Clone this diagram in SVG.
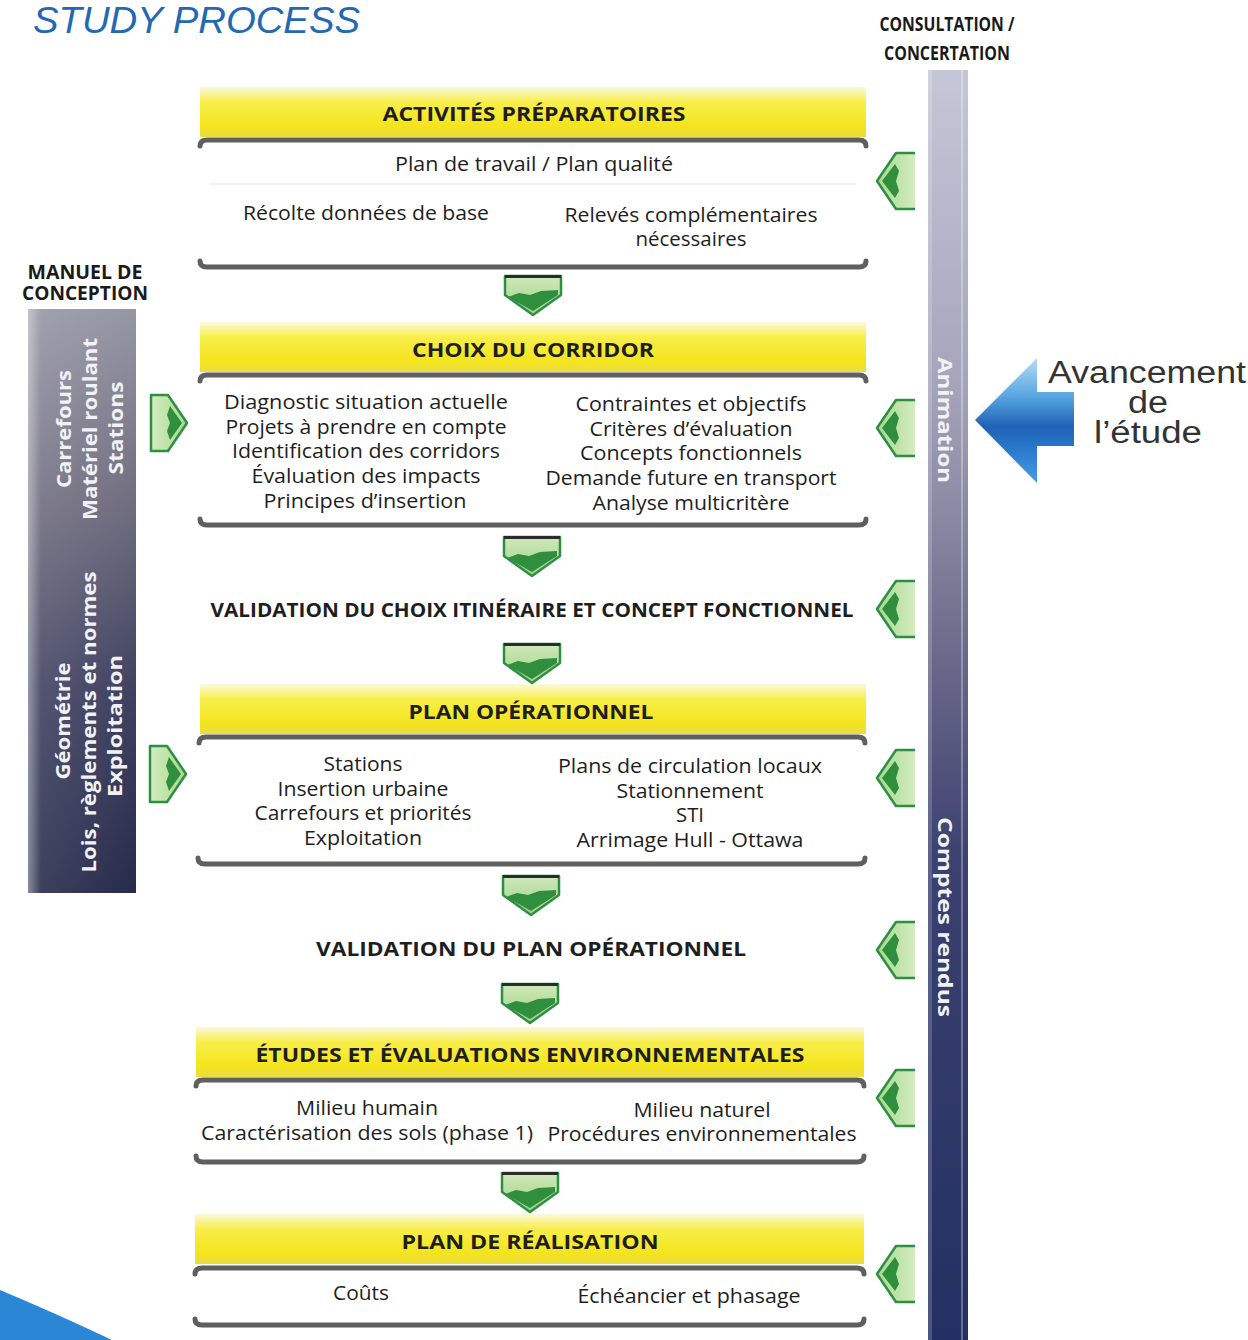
<svg xmlns="http://www.w3.org/2000/svg" xmlns:xlink="http://www.w3.org/1999/xlink" width="1248" height="1340" viewBox="0 0 1248 1340">
  <style>
    .body { font-family: "Open Sans", "Noto Sans", "Liberation Sans", sans-serif; font-size: 20px; fill: #1e1e1e; text-anchor: middle; }
    .head { font-family: "Open Sans", "Noto Sans", "Liberation Sans", sans-serif; font-size: 20px; font-weight: bold; fill: #1e1e1e; text-anchor: middle; }
    .cond { font-family: "Open Sans", "Liberation Sans", sans-serif; font-size: 19px; font-weight: bold; fill: #1a1a1a; text-anchor: middle; }
    .vert { font-family: "Open Sans", "Liberation Sans", sans-serif; font-size: 20px; font-weight: bold; fill: #f2f2f6; text-anchor: middle; }
    .rule { fill: none; stroke: #5f5f5f; stroke-width: 5; stroke-linecap: round; }
    .yellow { fill: url(#yellowGrad); }
    .arrowline { stroke: #2e8f43; stroke-width: 2.5; stroke-linejoin: round; }
  </style>
  <defs>
    <linearGradient id="yellowGrad" x1="0" y1="0" x2="0" y2="1">
      <stop offset="0" stop-color="#fcf9dc"/>
      <stop offset="0.3" stop-color="#f8ee4a"/>
      <stop offset="0.8" stop-color="#f4e41c"/>
      <stop offset="1" stop-color="#e9dc48"/>
    </linearGradient>
    <linearGradient id="greenGrad" x1="0" y1="0" x2="0" y2="1">
      <stop offset="0" stop-color="#cfe9bb"/>
      <stop offset="1" stop-color="#9fd184"/>
    </linearGradient>
    <linearGradient id="greenGradH" x1="0" y1="0" x2="1" y2="0">
      <stop offset="0" stop-color="#a9d88e"/>
      <stop offset="1" stop-color="#d3ecc0"/>
    </linearGradient>
    <linearGradient id="greenGradHr" x1="1" y1="0" x2="0" y2="0">
      <stop offset="0" stop-color="#a9d88e"/>
      <stop offset="1" stop-color="#d3ecc0"/>
    </linearGradient>
    <linearGradient id="leftBarGrad" x1="0" y1="0" x2="0" y2="1">
      <stop offset="0" stop-color="#9796a5"/>
      <stop offset="0.35" stop-color="#6d6b7d"/>
      <stop offset="0.65" stop-color="#3f4160"/>
      <stop offset="1" stop-color="#272b4b"/>
    </linearGradient>
    <linearGradient id="leftBarEdge" x1="0" y1="0" x2="1" y2="0">
      <stop offset="0" stop-color="#ffffff" stop-opacity="0.45"/>
      <stop offset="0.12" stop-color="#ffffff" stop-opacity="0.1"/>
      <stop offset="1" stop-color="#ffffff" stop-opacity="0"/>
    </linearGradient>
    <linearGradient id="rightBarGrad" x1="0" y1="0" x2="0" y2="1">
      <stop offset="0" stop-color="#c7c6d8"/>
      <stop offset="0.25" stop-color="#a6a4ba"/>
      <stop offset="0.45" stop-color="#6f6c8c"/>
      <stop offset="0.62" stop-color="#3b4170"/>
      <stop offset="1" stop-color="#233063"/>
    </linearGradient>
    <linearGradient id="blueArrowGrad" x1="0" y1="0" x2="0" y2="1">
      <stop offset="0" stop-color="#b5dcf3"/>
      <stop offset="0.3" stop-color="#5aa7e2"/>
      <stop offset="0.55" stop-color="#1e62b6"/>
      <stop offset="0.8" stop-color="#2f82d3"/>
      <stop offset="1" stop-color="#4a9de2"/>
    </linearGradient>

    <!-- downward chevron between steps, origin at top centre -->
    <g id="chevDown">
      <path d="M-28,0 L28,0 L28,19 L0,39 L-28,19 Z" fill="url(#greenGrad)" class="arrowline"/>
      <path d="M-25,21 L-14,17 L-3,19 L8,15 L25,14 L25,19 L0,35 Z" fill="#2f8f3f"/>
      <line x1="-28" y1="0.5" x2="28" y2="0.5" stroke="#2b2b2b" stroke-width="3"/>
    </g>
    <!-- left-pointing tab on the consultation side, origin at centre of right edge -->
    <g id="tabLeft">
      <path d="M0,-28 L-19,-28 L-38,0 L-19,28 L0,28" fill="url(#greenGradH)" class="arrowline"/>
      <path d="M-33,0 L-20,-17 L-16,-10 L-19,0 L-16,10 L-20,17 Z" fill="#2f8f3f"/>
    </g>
    <!-- right-pointing tab on the design-manual side, origin at centre of left edge -->
    <g id="tabRight">
      <path d="M0,-28 L17,-28 L36,0 L17,28 L0,28 Z" fill="url(#greenGradHr)" class="arrowline"/>
      <path d="M31,0 L19,-17 L16,-8 L19,0 L16,8 L19,17 Z" fill="#2f8f3f"/>
    </g>
  </defs>

  <rect width="1248" height="1340" fill="#ffffff"/>

  <!-- heading -->
  <g id="title">
    <text x="33" y="33" font-family="Liberation Sans, Arial, sans-serif" font-style="italic" font-size="36" fill="#2368b3" textLength="327" lengthAdjust="spacingAndGlyphs">STUDY PROCESS</text>
  </g>

  <!-- consultation column -->
  <g id="consultation">
    <text class="cond" x="947" y="31" textLength="135" lengthAdjust="spacingAndGlyphs">CONSULTATION /</text>
    <text class="cond" x="947" y="60" textLength="126" lengthAdjust="spacingAndGlyphs">CONCERTATION</text>
    <rect x="928" y="70" width="40" height="1270" fill="url(#rightBarGrad)"/>
    <rect x="928" y="70" width="4" height="1270" fill="#ffffff" opacity="0.18"/>
    <rect x="961" y="70" width="2" height="1270" fill="#ffffff" opacity="0.3"/>
    <text class="vert" transform="translate(938,420) rotate(90)" x="0" y="0" textLength="126" lengthAdjust="spacingAndGlyphs">Animation</text>
    <text class="vert" transform="translate(938,917) rotate(90)" x="0" y="0" textLength="200" lengthAdjust="spacingAndGlyphs">Comptes rendus</text>
  </g>

  <!-- design manual column -->
  <g id="manuel">
    <text class="cond" x="85" y="279" textLength="115" lengthAdjust="spacingAndGlyphs">MANUEL DE</text>
    <text class="cond" x="85" y="300" textLength="126" lengthAdjust="spacingAndGlyphs">CONCEPTION</text>
    <rect x="28" y="309" width="108" height="584" fill="url(#leftBarGrad)"/>
    <rect x="28" y="309" width="108" height="584" fill="url(#leftBarEdge)"/>
    <text class="vert" transform="translate(71,429) rotate(-90)" textLength="118" lengthAdjust="spacingAndGlyphs">Carrefours</text>
    <text class="vert" transform="translate(97,429) rotate(-90)" textLength="182" lengthAdjust="spacingAndGlyphs">Matériel roulant</text>
    <text class="vert" transform="translate(123,428) rotate(-90)" textLength="93" lengthAdjust="spacingAndGlyphs">Stations</text>
    <text class="vert" transform="translate(70,721) rotate(-90)" textLength="117" lengthAdjust="spacingAndGlyphs">Géométrie</text>
    <text class="vert" transform="translate(96,722) rotate(-90)" textLength="301" lengthAdjust="spacingAndGlyphs">Lois, règlements et normes</text>
    <text class="vert" transform="translate(122,726) rotate(-90)" textLength="142" lengthAdjust="spacingAndGlyphs">Exploitation</text>
  </g>

  <!-- step 1 -->
  <g id="activites">
    <rect class="yellow" x="200" y="87" width="666" height="50"/>
    <path class="rule" d="M200,146 Q200,140 207,140 L859,140 Q866,140 866,146"/>
    <text class="head" x="534" y="121" textLength="303" lengthAdjust="spacingAndGlyphs">ACTIVITÉS PRÉPARATOIRES</text>
    <text class="body" x="534" y="171" textLength="278" lengthAdjust="spacingAndGlyphs">Plan de travail / Plan qualité</text>
    <line x1="210" y1="184" x2="856" y2="184" stroke="#ececec" stroke-width="1.5"/>
    <text class="body" x="366" y="220" textLength="246" lengthAdjust="spacingAndGlyphs">Récolte données de base</text>
    <text class="body" x="691" y="222" textLength="253" lengthAdjust="spacingAndGlyphs">Relevés complémentaires</text>
    <text class="body" x="691" y="246" textLength="111" lengthAdjust="spacingAndGlyphs">nécessaires</text>
    <path class="rule" d="M200,261 Q200,267 207,267 L859,267 Q866,267 866,261"/>
  </g>

  <!-- step 2 -->
  <g id="corridor">
    <rect class="yellow" x="200" y="322" width="666" height="50"/>
    <path class="rule" d="M200,381 Q200,375 207,375 L859,375 Q866,375 866,381"/>
    <text class="head" x="533" y="357" textLength="242" lengthAdjust="spacingAndGlyphs">CHOIX DU CORRIDOR</text>
    <text class="body" x="366" y="409" textLength="284" lengthAdjust="spacingAndGlyphs">Diagnostic situation actuelle</text>
    <text class="body" x="366" y="434" textLength="281" lengthAdjust="spacingAndGlyphs">Projets à prendre en compte</text>
    <text class="body" x="366" y="458" textLength="268" lengthAdjust="spacingAndGlyphs">Identification des corridors</text>
    <text class="body" x="366" y="483" textLength="229" lengthAdjust="spacingAndGlyphs">Évaluation des impacts</text>
    <text class="body" x="365" y="508" textLength="203" lengthAdjust="spacingAndGlyphs">Principes d’insertion</text>
    <text class="body" x="691" y="411" textLength="231" lengthAdjust="spacingAndGlyphs">Contraintes et objectifs</text>
    <text class="body" x="691" y="436" textLength="203" lengthAdjust="spacingAndGlyphs">Critères d’évaluation</text>
    <text class="body" x="691" y="460" textLength="222" lengthAdjust="spacingAndGlyphs">Concepts fonctionnels</text>
    <text class="body" x="691" y="485" textLength="291" lengthAdjust="spacingAndGlyphs">Demande future en transport</text>
    <text class="body" x="691" y="510" textLength="197" lengthAdjust="spacingAndGlyphs">Analyse multicritère</text>
    <path class="rule" d="M200,519 Q200,525 207,525 L859,525 Q866,525 866,519"/>
  </g>

  <!-- validation of route -->
  <g id="validation-itineraire">
    <text class="head" x="532" y="617" textLength="643" lengthAdjust="spacingAndGlyphs">VALIDATION DU CHOIX ITINÉRAIRE ET CONCEPT FONCTIONNEL</text>
  </g>

  <!-- step 3 -->
  <g id="plan-operationnel">
    <rect class="yellow" x="200" y="684" width="666" height="50"/>
    <path class="rule" d="M199,743 Q199,737 206,737 L858,737 Q865,737 865,743"/>
    <text class="head" x="531" y="719" textLength="245" lengthAdjust="spacingAndGlyphs">PLAN OPÉRATIONNEL</text>
    <text class="body" x="363" y="771" textLength="79" lengthAdjust="spacingAndGlyphs">Stations</text>
    <text class="body" x="363" y="796" textLength="171" lengthAdjust="spacingAndGlyphs">Insertion urbaine</text>
    <text class="body" x="363" y="820" textLength="217" lengthAdjust="spacingAndGlyphs">Carrefours et priorités</text>
    <text class="body" x="363" y="845" textLength="118" lengthAdjust="spacingAndGlyphs">Exploitation</text>
    <text class="body" x="690" y="773" textLength="264" lengthAdjust="spacingAndGlyphs">Plans de circulation locaux</text>
    <text class="body" x="690" y="798" textLength="147" lengthAdjust="spacingAndGlyphs">Stationnement</text>
    <text class="body" x="690" y="822" textLength="28" lengthAdjust="spacingAndGlyphs">STI</text>
    <text class="body" x="690" y="847" textLength="227" lengthAdjust="spacingAndGlyphs">Arrimage Hull - Ottawa</text>
    <path class="rule" d="M198,858 Q198,864 205,864 L858,864 Q865,864 865,858"/>
  </g>

  <!-- validation of operational plan -->
  <g id="validation-plan">
    <text class="head" x="531" y="956" textLength="430" lengthAdjust="spacingAndGlyphs">VALIDATION DU PLAN OPÉRATIONNEL</text>
  </g>

  <!-- step 4 -->
  <g id="etudes">
    <rect class="yellow" x="196" y="1027" width="668" height="50"/>
    <path class="rule" d="M196,1086 Q196,1080 203,1080 L857,1080 Q864,1080 864,1086"/>
    <text class="head" x="530" y="1062" textLength="549" lengthAdjust="spacingAndGlyphs">ÉTUDES ET ÉVALUATIONS ENVIRONNEMENTALES</text>
    <text class="body" x="367" y="1115" textLength="142" lengthAdjust="spacingAndGlyphs">Milieu humain</text>
    <text class="body" x="367" y="1140" textLength="332" lengthAdjust="spacingAndGlyphs">Caractérisation des sols (phase 1)</text>
    <text class="body" x="702" y="1117" textLength="137" lengthAdjust="spacingAndGlyphs">Milieu naturel</text>
    <text class="body" x="702" y="1141" textLength="309" lengthAdjust="spacingAndGlyphs">Procédures environnementales</text>
    <path class="rule" d="M196,1156 Q196,1162 203,1162 L857,1162 Q864,1162 864,1156"/>
  </g>

  <!-- step 5 -->
  <g id="realisation">
    <rect class="yellow" x="195" y="1214" width="669" height="50"/>
    <path class="rule" d="M195,1274 Q195,1268 202,1268 L857,1268 Q864,1268 864,1274"/>
    <text class="head" x="530" y="1249" textLength="257" lengthAdjust="spacingAndGlyphs">PLAN DE RÉALISATION</text>
    <text class="body" x="361" y="1300" textLength="56" lengthAdjust="spacingAndGlyphs">Coûts</text>
    <text class="body" x="689" y="1303" textLength="223" lengthAdjust="spacingAndGlyphs">Échéancier et phasage</text>
    <path class="rule" d="M195,1319 Q195,1325 202,1325 L857,1325 Q864,1325 864,1319"/>
  </g>

  <!-- progress indicator -->
  <g id="avancement">
    <path d="M975,420 L1037,358 L1037,392 L1074,392 L1074,446 L1037,446 L1037,483 Z" fill="url(#blueArrowGrad)"/>
    <g font-family="Liberation Sans, Arial, sans-serif" font-size="31" fill="#333333" text-anchor="middle">
      <text x="1147" y="383" textLength="198" lengthAdjust="spacingAndGlyphs">Avancement</text>
      <text x="1148" y="413" textLength="40" lengthAdjust="spacingAndGlyphs">de</text>
      <text x="1148" y="443" textLength="108" lengthAdjust="spacingAndGlyphs">l’étude</text>
    </g>
  </g>

  <!-- corner accent -->
  <g id="corner">
    <path d="M0,1290 Q55,1313 112,1340 L0,1340 Z" fill="#2a87d6"/>
  </g>

  <!-- connectors: step chevrons and side tabs -->
  <g id="connectors">
    <use xlink:href="#chevDown" href="#chevDown" x="533" y="276"/>
    <use xlink:href="#chevDown" href="#chevDown" x="532" y="537"/>
    <use xlink:href="#chevDown" href="#chevDown" x="532" y="644"/>
    <use xlink:href="#chevDown" href="#chevDown" x="531" y="876"/>
    <use xlink:href="#chevDown" href="#chevDown" x="530" y="984"/>
    <use xlink:href="#chevDown" href="#chevDown" x="530" y="1173"/>

    <use xlink:href="#tabLeft" href="#tabLeft" x="915" y="181"/>
    <use xlink:href="#tabLeft" href="#tabLeft" x="915" y="428"/>
    <use xlink:href="#tabLeft" href="#tabLeft" x="915" y="609"/>
    <use xlink:href="#tabLeft" href="#tabLeft" x="915" y="778"/>
    <use xlink:href="#tabLeft" href="#tabLeft" x="915" y="950"/>
    <use xlink:href="#tabLeft" href="#tabLeft" x="915" y="1098"/>
    <use xlink:href="#tabLeft" href="#tabLeft" x="915" y="1274"/>

    <use xlink:href="#tabRight" href="#tabRight" x="151" y="423"/>
    <use xlink:href="#tabRight" href="#tabRight" x="150" y="774"/>
  </g>
</svg>
